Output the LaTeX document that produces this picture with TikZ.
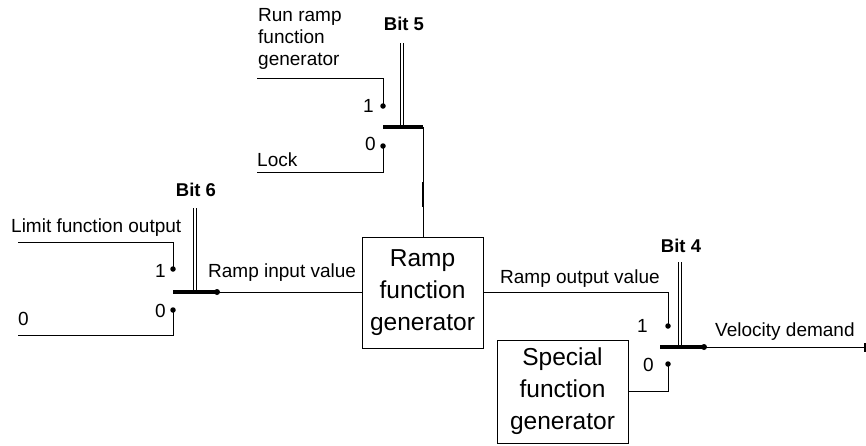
\documentclass[tikz,border=0pt]{standalone}
\usepackage{fontspec}
\setmainfont{Liberation Sans}
\usetikzlibrary{arrows.meta}
\begin{document}
\begin{tikzpicture}[x=1pt,y=-1pt,
  wire/.style={line width=0.8pt},
  lbl/.style={font=\fontsize{19}{22}\selectfont, inner sep=0pt, align=left},
  bitlbl/.style={font=\fontsize{18.5}{22}\selectfont\bfseries, inner sep=0pt},
  blk/.style={draw, line width=0.9pt, font=\fontsize{24.5}{32}\selectfont, align=center, inner sep=0pt},
  pin/.style={circle, fill, inner sep=0pt, minimum size=5.5pt},
  barline/.style={line width=4.5pt},
  ctrl/.style={double, line width=0.8pt, double distance=2pt},
  heavy/.style={line width=2.2pt}]
\useasboundingbox (0,0) rectangle (866,445);

% blocks
\node[blk, minimum width=121pt, minimum height=111pt] (ramp) at (422.5,292.5) {Ramp\\function\\generator};
\node[blk, minimum width=131pt, minimum height=103pt] (special) at (562.5,391.5) {Special\\function\\generator};

% ---- Bit 5 switch ----
\node[pin] (b5one) at (383,106) {};
\node[pin] (b5zero) at (383,146) {};
\coordinate (b5barL) at (383,127);
\coordinate (b5barR) at (423,127);
\coordinate (b5ctl) at (402,43);
\coordinate (b5ctlEnd) at (402,125);
\coordinate (runin) at (257,78);
\coordinate (lockin) at (257,172);
\coordinate (b5hA) at (423,182);
\coordinate (b5hB) at (423,207);
\draw[barline] (b5barL) -- (b5barR);
\draw[ctrl] (b5ctl) -- (b5ctlEnd);
\draw[wire] (runin) -| (b5one.center);
\draw[wire] (lockin) -| (b5zero.center);
\draw[wire] (b5barR) -- (b5barR |- ramp.north);
\draw[heavy] (b5hA) -- (b5hB);
\node[lbl, anchor=base west] (runtxt) at (258,65) {Run ramp\\function\\generator};
\node[lbl, anchor=base west] (locktxt) at (257,166) {Lock};
\node[lbl, anchor=base east] (b5onetxt) at (374,112) {1};
\node[lbl, anchor=base east] (b5zerotxt) at (376,150) {0};
\node[bitlbl, anchor=base] (b5txt) at (404,30) {Bit 5};

% ---- Bit 6 switch ----
\node[pin] (b6one) at (173,269) {};
\node[pin] (b6zero) at (173,310) {};
\coordinate (b6barL) at (173,292);
\coordinate (b6barR) at (217,292);
\coordinate (b6ctl) at (195,208);
\coordinate (b6ctlEnd) at (195,290);
\coordinate (limin) at (18,242);
\coordinate (zeroin) at (18,335);
\draw[barline] (b6barL) -- (b6barR);
\node[pin, minimum size=6pt] (b6end) at (b6barR) {};
\draw[ctrl] (b6ctl) -- (b6ctlEnd);
\draw[wire] (limin) -| (b6one.center);
\draw[wire] (zeroin) -| (b6zero.center);
\draw[wire] (b6barR) -- (ramp.west |- b6barR);
\node[lbl, anchor=base west] (limtxt) at (11,232) {Limit function output};
\node[lbl, anchor=base west] (zerotxt) at (18,325) {0};
\node[lbl, anchor=base east] (b6onetxt) at (166,277) {1};
\node[lbl, anchor=base east] (b6zerotxt) at (166,317) {0};
\node[bitlbl, anchor=base] (b6txt) at (196,196) {Bit 6};
\node[lbl, anchor=base west] (rintxt) at (208,277) {Ramp input value};

% ---- Bit 4 switch ----
\node[pin] (b4one) at (668,326) {};
\node[pin] (b4zero) at (668,364) {};
\coordinate (b4barL) at (660,347);
\coordinate (b4barR) at (704,347);
\coordinate (b4ctl) at (680,262);
\coordinate (b4ctlEnd) at (680,345);
\coordinate (vout) at (866,347);
\draw[barline] (b4barL) -- (b4barR);
\node[pin, minimum size=6pt] (b4end) at (b4barR) {};
\draw[ctrl] (b4ctl) -- (b4ctlEnd);
\draw[wire] (ramp.east) -| (b4one.center);
\draw[wire] (special.east) -| (b4zero.center);
\draw[wire, -{Rectangle[length=2.5pt,width=9pt]}] (b4barR) -- (vout);
\node[lbl, anchor=base west] (routtxt) at (500,283) {Ramp output value};
\node[lbl, anchor=base east] (b4onetxt) at (648,332) {1};
\node[lbl, anchor=base east] (b4zerotxt) at (654,371) {0};
\node[bitlbl, anchor=base] (b4txt) at (681,252) {Bit 4};
\node[lbl, anchor=base west] (veltxt) at (715,336) {Velocity demand};
\end{tikzpicture}
\end{document}
